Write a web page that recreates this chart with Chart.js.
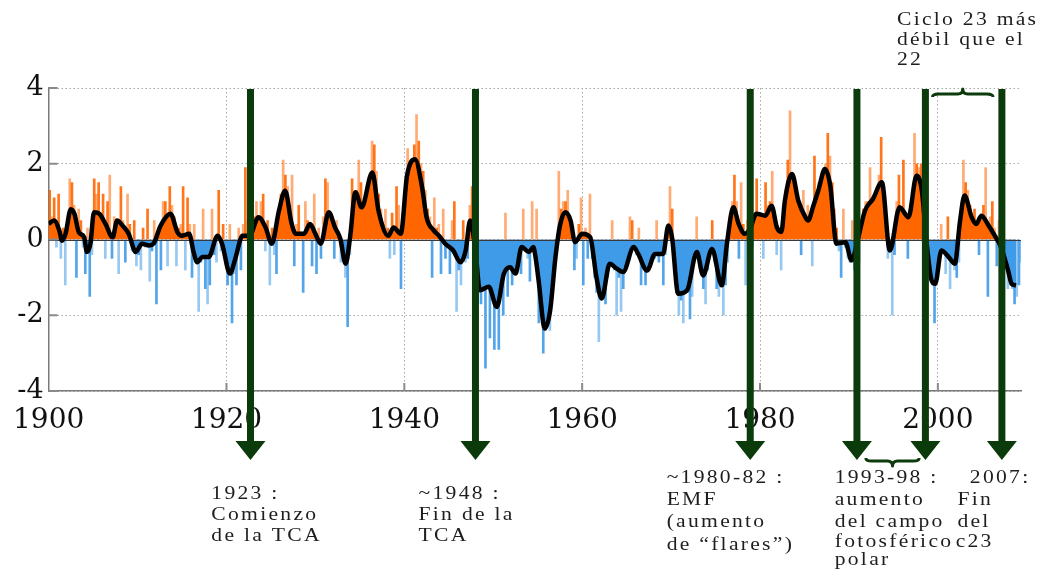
<!DOCTYPE html>
<html><head><meta charset="utf-8">
<script src="https://cdn.jsdelivr.net/npm/chart.js@4.4.0/dist/chart.umd.min.js"></script>
<style>html,body{margin:0;padding:0;background:#fff;overflow:hidden}#wrap{width:1048px;height:569px;position:relative}</style>
</head><body><div id="wrap"><canvas id="c"></canvas></div>
<script>
// ---- data ----
const barStartYear = 1900;
const barsPerYear = 4;
const monthlyIndex = [
 1.3,0.6,1.1,-0.2,  1.2,-0.5,0.3,-1.2,  0.4,1.6,1.5,0.9,  -1.0,0.8,0.5,-0.2,  -0.9,0.3,-1.5,-0.4,
 1.6,1.2,1.5,0.6,  1.2,-0.5,1.0,1.7,  -0.5,0.6,0.3,-0.9,  1.4,0.5,-0.6,1.2,  0.4,-0.3,0.5,-0.7,
 -0.4,-0.8,0.3,-0.2,  0.8,-1.1,-0.3,0.5,  -1.7,0.3,-0.8,1.0,  1.0,-0.7,1.4,0.9,  0.6,-0.7,0.3,0.4,
 1.4,-0.8,1.1,0.4,  -1.0,0.4,-0.5,-1.9,  -0.6,0.8,-1.3,-1.7,  -1.2,0.8,-0.4,-0.6,  1.3,-0.3,0.4,-0.6,
 -1.2,0.4,-2.2,-0.9,  -1.2,0.3,-0.8,0.4,  1.9,0.5,-0.8,0.4,  0.6,1.0,0.5,1.0,  1.2,-0.3,0.5,-1.2,
 0.3,-0.4,-0.9,0.8,  1.2,2.1,1.7,1.4,  0.9,1.7,-0.7,0.4,  0.9,0.2,-1.4,1.0,  0.5,0.2,-0.7,1.2,
 -0.9,0.3,-0.5,0.6,  1.6,1.5,0.7,0.2,  -0.5,0.5,0.2,-0.6,  -0.5,-1.0,-2.3,-0.4,  1.6,1.0,1.3,2.1,
 1.5,0.7,1.0,1.3,  1.4,2.6,2.5,1.8,  1.2,0.8,0.4,0.8,  0.3,-0.5,0.7,-0.4,  1.4,0.9,-1.3,0.6,
 1.3,2.4,1.9,1.6,  2.5,3.3,2.6,2.0,  1.8,1.3,0.8,0.6,  -1.0,1.1,0.3,0.4,  -0.9,0.8,-0.5,-0.2,
 -0.9,0.5,1.0,-1.9,  -0.8,-1.2,0.5,-0.6,  -0.5,0.9,1.4,0.8,  0.2,-0.8,-1.7,-1.2,  -3.4,-1.0,-2.6,-1.5,
 -2.9,-1.8,-2.9,-1.5,  -2.0,0.7,-1.5,-0.6,  -1.2,-0.6,-0.9,-0.4,  -0.9,0.8,-0.3,-0.5,  -1.1,1.0,-0.3,0.8,
 -2.2,-1.5,-3.0,-2.4,  -2.0,-2.4,-1.2,-0.6,  -0.4,1.8,0.8,1.0,  1.0,1.3,0.6,0.2,  -0.8,-0.5,0.4,1.1,
 -1.2,0.3,-0.5,1.2,  -0.5,-1.0,-1.4,-2.7,  -1.5,-1.4,-1.7,-1.0,  -0.6,0.5,-0.8,-2.0,  -1.0,-1.9,-1.3,-0.6,
 -0.3,0.6,0.5,-0.2,  -0.4,0.3,-1.2,-0.5,  -1.2,-0.8,-0.6,-0.4,  -0.5,0.5,-0.6,-0.3,  -1.2,-0.4,0.3,1.4,
 0.8,-0.6,-1.4,-2.0,  -1.6,-2.2,-1.2,-1.4,  -2.1,-1.5,-0.4,0.6,  -0.3,-0.9,-1.3,-1.7,  -0.8,-0.3,0.5,-0.6,
 -1.3,-1.5,-1.2,-2.0,  -1.2,-0.6,0.3,1.0,  1.7,1.0,-0.5,1.5,  0.4,-1.2,0.5,-0.5,  -0.2,0.7,1.6,0.5,
 0.6,-0.5,1.5,0.9,  1.0,1.8,0.5,-0.4,  0.3,-0.8,0.6,1.3,  2.1,3.4,1.7,1.5,  1.2,0.7,-0.4,1.3,
 0.4,0.9,0.5,-0.7,  2.2,1.0,1.5,1.4,  1.8,2.0,2.8,2.2,  1.5,0.8,0.3,-0.3,  -1.0,0.8,-0.2,-0.5,
 -0.6,0.5,-0.8,-0.5,  -0.6,0.2,0.8,1.0,  1.0,1.9,1.1,0.9,  1.3,1.7,2.7,1.5,  0.9,-0.5,-0.3,-2.0,
 -0.4,1.0,1.7,0.8,  2.1,0.6,-0.5,0.4,  1.0,2.8,2.0,1.9,  2.0,1.2,0.5,-0.5,  -0.8,-1.2,-2.2,-1.0,
 -0.6,0.4,-0.2,-0.9,  0.6,-1.3,-0.5,-0.8,  -1.0,-0.6,0.3,2.1,  1.5,1.3,0.9,0.5,  0.8,0.4,-0.4,0.6,
 0.9,1.9,-1.5,0.6,  1.0,0.3,-0.7,0.5,  0.2,0.5,-0.6,-1.3,  -1.0,-1.3,-1.7,-1.5,  -1.2,-0.6
];
const smoothYears = [
 1900.0,1900.6,1901.2,1901.5,1901.9,1902.5,1902.9,1903.4,1904.0,1904.3,1904.7,1905.1,1905.7,1906.4,1907.2,1907.7,1908.3,1909.0,1909.8,
 1910.5,1911.3,1911.8,1912.6,1913.7,1914.5,1915.0,1915.8,1916.3,1916.7,1917.3,1918.0,1919.0,1919.5,1920.4,1921.0,1921.8,1922.6,1923.6,
 1924.4,1925.1,1925.9,1926.6,1927.3,1927.8,1928.7,1929.4,1930.0,1930.6,1931.5,1932.2,1932.8,1933.4,1933.9,1934.5,1935.2,1936.4,1937.1,
 1938.2,1938.8,1939.6,1940.3,1941.2,1942.0,1942.5,1943.3,1943.9,1944.6,1945.5,1946.3,1946.9,1947.4,1948.0,1948.5,1949.5,1950.4,1951.2,
 1951.9,1952.5,1953.2,1954.0,1954.5,1954.7,1955.1,1955.8,1956.4,1957.0,1957.5,1958.1,1958.7,1959.2,1960.0,1960.9,1961.6,1962.2,1963.1,
 1963.9,1964.6,1965.8,1966.3,1967.3,1968.2,1969.1,1969.7,1970.1,1970.8,1971.8,1972.9,1973.6,1974.6,1975.7,1976.3,1977.0,1977.6,1978.3,
 1978.9,1979.6,1980.6,1981.3,1981.9,1982.4,1982.8,1983.6,1984.3,1985.1,1985.4,1986.0,1986.6,1987.3,1987.9,1988.6,1989.6,1990.3,1991.0,
 1991.8,1992.7,1993.7,1994.6,1995.7,1996.7,1997.6,1998.2,1998.7,1999.3,1999.7,2000.4,2001.2,2001.9,2002.5,2003.0,2003.8,2004.3,2004.9,
 2005.7,2006.4,2007.1,2007.9,2008.3,2008.8
];
const smoothValues = [
 0.41,0.5,0.24,-0.03,0.15,0.8,0.68,0.19,0.06,-0.33,-0.11,0.72,0.68,0.41,0.06,0.5,0.37,0.15,-0.33,
 -0.11,-0.16,-0.11,0.37,0.68,0.19,0.1,0.15,-0.33,-0.6,-0.46,-0.46,0.1,-0.11,-0.9,-0.5,0.1,0.1,0.59,
 0.32,-0.11,0.76,1.29,0.45,0.15,0.15,0.41,0.15,-0.11,0.72,0.32,0.02,-0.64,0.06,1.25,0.85,1.77,0.76,
 0.1,0.32,0.15,1.68,2.12,1.38,0.59,0.24,0.1,-0.11,-0.29,-0.6,-0.29,0.5,-0.3,-1.34,-1.25,-1.78,-0.9,
 -0.73,-0.9,-0.2,-0.33,-0.2,-0.38,-1.08,-2.35,-1.87,-0.46,0.37,0.72,0.5,-0.07,0.15,0.06,-0.99,-1.56,-0.64,
 -0.77,-0.86,-0.2,-0.38,-0.82,-0.38,-0.38,0.37,0.06,-1.43,-1.34,-0.33,-0.95,-0.25,-1.21,-0.07,0.85,0.41,0.15,
 0.3,0.68,0.63,0.89,0.32,0.2,1.03,1.73,1.03,0.59,0.5,0.89,1.33,1.86,1.42,-0.11,-0.07,-0.55,0.0,
 0.76,1.07,1.51,-0.29,0.85,0.59,1.68,1.29,0.0,-1.08,-1.17,-0.29,-0.46,-0.64,0.5,1.16,0.59,0.41,0.63,
 0.37,0.1,-0.2,-0.82,-1.17,-1.21
];
const yTickValues = [-4, -2, 0, 2, 4];
const xTickYears = [1900, 1920, 1940, 1960, 1980, 2000];
const xMin = 1900, xMax = 2009.35;
const arrowYears = [1922.7, 1948.0, 1978.9, 1990.9, 1998.6, 2007.2];
const braceTopYears = [1999.4, 2006.2];
const braceBottomYears = [1991.9, 1997.9];
const noteBlocks = [
  { year: 1918.3, lines: [['1923 :', 499], ['Comienzo', 520], ['de la TCA', 541]] },
  { year: 1941.6, lines: [['~1948 :', 499], ['Fin de la', 520], ['TCA', 541]] },
  { year: 1969.5, lines: [['~1980-82 :', 483], ['EMF', 505], ['(aumento', 527], ['de \u201cflares\u201d)', 550]] },
  { year: 1988.4, lines: [['1993-98 :', 483], ['aumento', 505], ['del campo', 527], ['fotosférico', 547], ['polar', 565]] },
  { year: 2003.6, lines: [['2007:', 483]] },
  { year: 2002.2, lines: [['Fin', 505], ['del', 527]] },
  { year: 2002.0, lines: [['c23', 547]] },
  { year: 1995.4, lines: [['Ciclo 23 más', 25], ['débil que el', 45], ['22', 65]] }
];

// ---- styling ----
const ORANGE = '#ff6600', BLUE = '#3f9be8', GREEN = '#0b3a0b';
const barPoints = monthlyIndex.map((v, i) => ({ x: barStartYear + (i + 0.5) / barsPerYear, y: v }));
const smoothPoints = smoothYears.map((yr, i) => ({ x: yr, y: smoothValues[i] }));

const overlay = {
  id: 'overlay',
  afterDatasetDraw(chart, args) {
    if (args.index !== 0) return;
    const { ctx, chartArea: a, scales: { y } } = chart;
    const y0 = Math.round(y.getPixelForValue(0)) + 0.5;
    ctx.save();
    ctx.strokeStyle = '#3a3a3a'; ctx.lineWidth = 1.2;
    ctx.beginPath(); ctx.moveTo(a.left, y0); ctx.lineTo(a.right, y0); ctx.stroke();
    ctx.restore();
  },
  afterDraw(chart) {
    const { ctx, chartArea: a, scales: { x, y } } = chart;
    ctx.save();
    ctx.strokeStyle = '#8a8a8a'; ctx.lineWidth = 2;
    yTickValues.forEach(v => {
      const py = y.getPixelForValue(v);
      ctx.beginPath(); ctx.moveTo(a.left, py); ctx.lineTo(a.left + 9, py); ctx.stroke();
    });
    xTickYears.slice(1).forEach(v => {
      const px = x.getPixelForValue(v);
      ctx.beginPath(); ctx.moveTo(px, a.bottom); ctx.lineTo(px, a.bottom - 8); ctx.stroke();
    });
    const shaftEnd = a.bottom + 50, headEnd = a.bottom + 69;
    ctx.fillStyle = GREEN;
    arrowYears.forEach(yr => {
      const px = x.getPixelForValue(yr);
      ctx.fillRect(px - 3.5, a.top + 1, 7, shaftEnd - a.top);
      ctx.beginPath();
      ctx.moveTo(px - 15, shaftEnd); ctx.lineTo(px + 15, shaftEnd); ctx.lineTo(px, headEnd);
      ctx.closePath(); ctx.fill();
    });
    ctx.strokeStyle = GREEN; ctx.lineWidth = 3; ctx.lineJoin = 'round';
    const brace = (x1, x2, yBase, dir) => {
      const m = (x1 + x2) / 2, b = yBase - dir * 3, p = yBase - dir * 8;
      ctx.beginPath();
      ctx.moveTo(x1, yBase);
      ctx.quadraticCurveTo(x1, b, x1 + 6, b);
      ctx.lineTo(m - 5, b);
      ctx.quadraticCurveTo(m, b, m, p);
      ctx.quadraticCurveTo(m, b, m + 5, b);
      ctx.lineTo(x2 - 6, b);
      ctx.quadraticCurveTo(x2, b, x2, yBase);
      ctx.stroke();
    };
    brace(x.getPixelForValue(braceTopYears[0]), x.getPixelForValue(braceTopYears[1]), a.top + 9, 1);
    brace(x.getPixelForValue(braceBottomYears[0]), x.getPixelForValue(braceBottomYears[1]), a.bottom + 67, -1);
    ctx.fillStyle = '#1e1e1e';
    ctx.font = '18px "Liberation Serif", serif';
    ctx.textBaseline = 'alphabetic';
    noteBlocks.forEach(n => {
      const px = x.getPixelForValue(n.year);
      n.lines.forEach(([t, py]) => {
        ctx.save();
        ctx.translate(px, py);
        ctx.scale(1.2, 1);
        ctx.letterSpacing = '1.9px';
        ctx.fillText(t, 0, 0);
        ctx.restore();
      });
    });
    ctx.restore();
  }
};

new Chart(document.getElementById('c'), {
  type: 'bar',
  data: {
    datasets: [
      {
        type: 'bar', order: 1, data: barPoints,
        backgroundColor: c => {
          const v = c.raw ? c.raw.y : 0;
          const alpha = c.dataIndex % 2 ? 0.55 : 0.9;
          return v >= 0 ? `rgba(255,102,0,${alpha})` : `rgba(63,155,232,${alpha})`;
        },
        borderWidth: 0, barThickness: 2
      },
      {
        type: 'line', order: 0, data: smoothPoints,
        borderColor: '#000', borderWidth: 4.5, pointRadius: 0,
        cubicInterpolationMode: 'monotone',
        fill: { target: 'origin', above: ORANGE, below: BLUE }
      }
    ]
  },
  options: {
    responsive: true, maintainAspectRatio: false, animation: false,
    layout: { padding: { left: 0, top: 88, right: 27, bottom: 133 } },
    plugins: { legend: { display: false }, tooltip: { enabled: false }, filler: { drawTime: 'beforeDatasetsDraw' } },
    scales: {
      x: {
        type: 'linear', min: xMin, max: xMax, offset: false,
        afterBuildTicks: s => { s.ticks = xTickYears.map(v => ({ value: v })); },
        afterFit: s => { s.height = 45; },
        grid: { color: '#a8a8a8', lineWidth: 1, drawTicks: false, offset: false },
        border: { color: '#7a7a7a', width: 1.5, dash: [1.5, 2.5] },
        ticks: { color: '#111', padding: 13, maxRotation: 0, autoSkip: false,
          font: { family: 'DejaVu Serif', size: 28 }, callback: v => String(v) }
      },
      y: {
        min: -4, max: 4,
        afterBuildTicks: s => { s.ticks = yTickValues.map(v => ({ value: v })); },
        afterFit: s => { s.width = 48; },
        grid: { color: '#a8a8a8', lineWidth: 1, drawTicks: false },
        border: { color: '#7a7a7a', width: 1.5, dash: [1.5, 2.5] },
        ticks: { color: '#111', padding: 5, font: { family: 'DejaVu Serif', size: 27 } }
      }
    }
  },
  plugins: [overlay]
});
</script></body></html>
